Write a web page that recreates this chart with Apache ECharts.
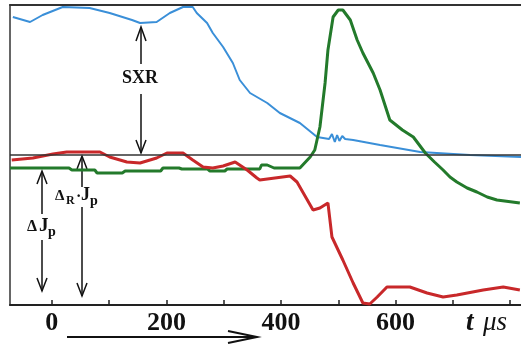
<!DOCTYPE html>
<html lang="en">
<head>
<meta charset="UTF-8">
<title>SXR, ΔJp, ΔR·Jp</title>
<script src="https://cdn.jsdelivr.net/npm/echarts@6/dist/echarts.min.js"></script>
<style>
    html, body { margin: 0; padding: 0; background: #fff; }
    #main { width: 521px; height: 352px; }
</style>
</head>
<body>
<div id="main"></div>
<script>
    // time in μs, signals in arbitrary units (0 = bottom of frame, 300 = top)
    var sxrT = [-68, -38, -16, 19, 66, 101, 140, 154, 183, 206, 229, 246, 253, 271, 281, 299, 316, 328, 346, 376, 398, 433, 463, 484, 489, 494, 498, 502, 507, 512, 526, 573, 643, 672, 730, 819];
    var sxrV = [288, 283, 290, 298, 297, 292, 285, 282, 283, 292, 298, 298, 292, 282, 272, 258, 242, 225, 212, 202, 192, 182, 168, 166, 171, 163, 170, 164, 169, 166, 165, 160, 153, 152, 150, 148];

    var djT = [-73, 30, 35, 75, 79, 123, 128, 190, 194, 222, 227, 272, 276, 302, 306, 363, 366, 376, 388, 393, 433, 451, 459, 468, 477, 482, 491, 500, 508, 521, 533, 543, 561, 573, 590, 612, 631, 652, 668, 683, 695, 707, 725, 742, 760, 777, 817];
    var djV = [137, 137, 135, 135, 132, 132, 134, 134, 137, 137, 136, 136, 134, 134, 136, 136, 140, 140, 137, 137, 137, 148, 155, 178, 222, 255, 288, 295, 295, 285, 265, 252, 232, 215, 185, 175, 168, 152, 143, 135, 128, 123, 117, 113, 108, 105, 102];

    var drT = [-70, -33, 2, 26, 84, 101, 131, 154, 183, 201, 229, 246, 264, 281, 299, 320, 341, 358, 363, 416, 428, 456, 468, 482, 489, 508, 526, 543, 555, 568, 585, 625, 655, 683, 707, 753, 788, 817];
    var drV = [145, 147, 151, 153, 153, 148, 143, 142, 147, 152, 152, 145, 138, 137, 139, 143, 135, 127, 125, 129, 123, 95, 97, 102, 68, 45, 22, 2, 1, 8, 18, 18, 12, 8, 10, 15, 18, 15];

    var baseLevel = 150;
    var tickValues = [0, 100, 200, 300, 400, 500, 600, 700, 800];
    var labelValues = [0, 200, 400, 600];

    function zip(t, v) {
        var out = [];
        for (var i = 0; i < t.length; i++) out.push([t[i], v[i]]);
        return out;
    }

    var serif = 'Liberation Serif';

    function txt(s, x, y, size, extra) {
        var st = { text: s, x: x, y: y, fontFamily: serif, fontSize: size, fontWeight: 'bold', fill: '#111', textVerticalAlign: 'middle', textAlign: 'left' };
        for (var k in extra) st[k] = extra[k];
        return { type: 'text', silent: true, style: st };
    }
    function seg(x1, y1, x2, y2, w) {
        return { type: 'line', silent: true, shape: { x1: x1, y1: y1, x2: x2, y2: y2 }, style: { stroke: '#111', lineWidth: w || 1.5 } };
    }
    function head(pts, w) {
        return { type: 'polyline', silent: true, shape: { points: pts }, style: { stroke: '#111', lineWidth: w || 1.5, fill: null } };
    }

    var myChart = echarts.init(document.getElementById('main'));
    var option = {
        animation: false,
        backgroundColor: '#fff',
        grid: { left: 10, right: 0, top: 5, bottom: 47 },
        xAxis: [{
            type: 'value', min: -73, max: 819, position: 'bottom',
            axisLine: { onZero: false, lineStyle: { color: '#222', width: 2 } },
            axisTick: { inside: true, length: 5, customValues: tickValues, lineStyle: { color: '#222', width: 1.5 } },
            axisLabel: { customValues: labelValues, fontFamily: serif, fontWeight: 'bold', fontSize: 26, color: '#111', margin: 5 },
            splitLine: { show: false }
        }, {
            type: 'value', min: -73, max: 819, position: 'top',
            axisLine: { onZero: false, lineStyle: { color: '#333', width: 2 } },
            axisTick: { show: false }, axisLabel: { show: false }, splitLine: { show: false }
        }],
        yAxis: {
            type: 'value', min: 0, max: 300,
            axisLine: { show: true, onZero: false, lineStyle: { color: '#666', width: 2 } },
            axisTick: { show: false }, axisLabel: { show: false }, splitLine: { show: false }
        },
        series: [{
            name: 'SXR', type: 'line', data: zip(sxrT, sxrV), showSymbol: false,
            lineStyle: { color: '#3a8fd8', width: 2 },
            markLine: {
                silent: true, symbol: ['none', 'none'], label: { show: false },
                lineStyle: { color: '#333', width: 1.5, type: 'solid' },
                data: [{ yAxis: baseLevel }]
            }
        }, {
            name: 'ΔJp', type: 'line', data: zip(djT, djV), showSymbol: false,
            lineStyle: { color: '#237a2b', width: 3 }
        }, {
            name: 'ΔR·Jp', type: 'line', data: zip(drT, drV), showSymbol: false,
            lineStyle: { color: '#c8282a', width: 3 }
        }],
        graphic: [
            // SXR arrow
            seg(141, 28, 141, 64), head([[136, 41], [141, 27], [146, 41]]),
            seg(141, 94, 141, 153), head([[136, 140], [141, 153], [146, 140]]),
            txt('SXR', 122, 78, 18),
            // ΔJp arrow
            seg(42, 172, 42, 214), head([[37, 184], [42, 171], [47, 184]]),
            seg(42, 240, 42, 291), head([[37, 278], [42, 291], [47, 278]]),
            txt('Δ', 27, 227, 16), txt('J', 39, 226, 19), txt('p', 48, 232, 14),
            // ΔR·Jp arrow
            seg(82, 157, 82, 187), head([[77, 169], [82, 156], [87, 169]]),
            seg(82, 207, 82, 296), head([[77, 283], [82, 296], [87, 283]]),
            txt('Δ', 55, 196, 15), txt('R', 66, 201, 12), txt('·', 76, 197, 16),
            txt('J', 81, 195, 18), txt('p', 90, 201, 14),
            // time arrow
            seg(67, 337, 256, 337, 2), head([[228, 331], [257, 337], [228, 343]], 2),
            txt('t', 466, 323, 27, { fontStyle: 'italic' }),
            txt('μs', 483, 323, 27, { fontStyle: 'italic', fontWeight: 'normal' })
        ]
    };
    myChart.setOption(option);
</script>
</body>
</html>
